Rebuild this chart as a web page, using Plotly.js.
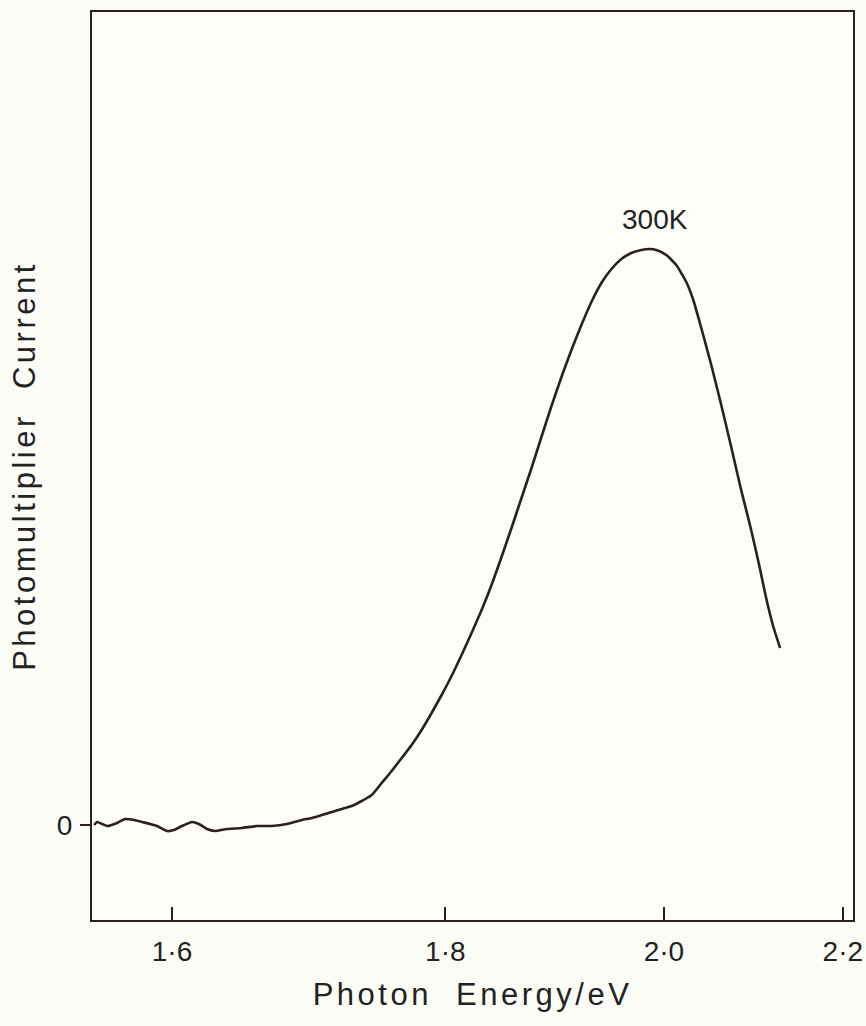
<!DOCTYPE html>
<html>
<head>
<meta charset="utf-8">
<script src="https://cdn.plot.ly/plotly-3.0.1.min.js"></script>
<style>
  html, body { margin: 0; padding: 0; background: #fcfcf7; }
  #chart { width: 866px; height: 1026px; }
  .g-xtitle text, .g-ytitle text { letter-spacing: 3.5px !important; }
</style>
</head>
<body>
<div id="chart"></div>
<script>
// Photon energy (eV)
const energy = [
  1.5509, 1.5527, 1.5589, 1.5651, 1.5700, 1.5757, 1.5808, 1.5903, 1.5968, 1.6013,
  1.6065, 1.6131, 1.6177, 1.6231, 1.6284, 1.6365, 1.6468, 1.6572, 1.6677, 1.6784,
  1.6892, 1.6964, 1.7038, 1.7112, 1.7186, 1.7262, 1.7337, 1.7414, 1.7491, 1.7569,
  1.7648, 1.7727, 1.7807, 1.7888, 1.7970, 1.8052, 1.8135, 1.8219, 1.8304, 1.8389,
  1.8475, 1.8562, 1.8650, 1.8739, 1.8828, 1.8919, 1.9010, 1.9102, 1.9195, 1.9289,
  1.9384, 1.9480, 1.9577, 1.9674, 1.9773, 1.9853, 1.9923, 2.0024, 2.0126, 2.0230,
  2.0303, 2.0387, 2.0493, 2.0600, 2.0708, 2.0817, 2.0928, 2.1017, 2.1096, 2.1175,
  2.1255
];
// Photomultiplier current (arbitrary units, 0 = baseline)
const current = [
  0.00, 0.03, -0.01, 0.02, 0.06, 0.05, 0.03, -0.01, -0.06, -0.05,
  -0.01, 0.03, 0.01, -0.04, -0.06, -0.04, -0.03, -0.01, -0.01, 0.01,
  0.05, 0.07, 0.10, 0.13, 0.16, 0.19, 0.24, 0.30, 0.42, 0.54,
  0.67, 0.80, 0.95, 1.12, 1.30, 1.49, 1.70, 1.92, 2.15, 2.40,
  2.68, 2.97, 3.27, 3.57, 3.88, 4.19, 4.48, 4.75, 5.00, 5.23,
  5.42, 5.56, 5.66, 5.72, 5.75, 5.76, 5.75, 5.70, 5.60, 5.43,
  5.25, 4.97, 4.60, 4.20, 3.78, 3.35, 2.95, 2.60, 2.27, 1.99,
  1.77
];
const xTickValues = [1.6, 1.8, 2.0, 2.2];
const xTickLabels = ['1·6', '1·8', '2·0', '2·2'];
const yTickValues = [0];
const yTickLabels = ['0'];
const xRangeEnergy = [1.5496, 2.2126];
const yRange = [-0.95, 8.13];
const curveLabel = '300K';

// The energy axis is linear in wavelength, i.e. in 1/E
const inv = e => 1 / e;
const peakIdx = current.indexOf(Math.max(...current));

const ink = '#2b1f22';
const textInk = '#222';
const fontFamily = '"Liberation Sans", Arial, sans-serif';

const trace = {
  x: energy.map(inv),
  y: current,
  type: 'scatter',
  mode: 'lines',
  line: { color: ink, width: 2.6, shape: 'spline', smoothing: 0.5 },
  hoverinfo: 'skip'
};

const layout = {
  width: 866,
  height: 1026,
  margin: { l: 92, r: 13, t: 12, b: 106 },
  paper_bgcolor: '#fcfcf7',
  plot_bgcolor: '#fdfdf9',
  showlegend: false,
  font: { family: fontFamily, color: textInk, size: 28 },
  xaxis: {
    range: xRangeEnergy.map(inv),
    tickmode: 'array',
    tickvals: xTickValues.map(inv),
    ticktext: xTickLabels,
    ticks: 'inside',
    ticklen: 13,
    tickwidth: 2,
    tickcolor: ink,
    ticklabelstandoff: 5,
    showgrid: false,
    zeroline: false,
    showline: true,
    linecolor: ink,
    linewidth: 2,
    mirror: true,
    tickfont: { size: 28, color: textInk, family: fontFamily },
    title: { text: 'Photon  Energy/eV', font: { size: 31, color: textInk, family: fontFamily }, standoff: 18 }
  },
  yaxis: {
    range: yRange,
    tickmode: 'array',
    tickvals: yTickValues,
    ticktext: yTickLabels,
    ticks: 'outside',
    ticklen: 10,
    tickwidth: 2,
    tickcolor: ink,
    ticklabelstandoff: 2,
    showgrid: false,
    zeroline: false,
    showline: true,
    linecolor: ink,
    linewidth: 2,
    mirror: true,
    tickfont: { size: 28, color: textInk, family: fontFamily },
    title: { text: 'Photomultiplier  Current', font: { size: 31, color: textInk, family: fontFamily }, standoff: 12 }
  },
  annotations: [{
    x: inv(energy[peakIdx] + 0.006),
    y: current[peakIdx] + 0.12,
    xref: 'x', yref: 'y',
    text: curveLabel,
    showarrow: false,
    font: { size: 28, color: textInk, family: fontFamily },
    yanchor: 'bottom'
  }]
};

Plotly.newPlot('chart', [trace], layout, { displayModeBar: false, staticPlot: true });
</script>
</body>
</html>
